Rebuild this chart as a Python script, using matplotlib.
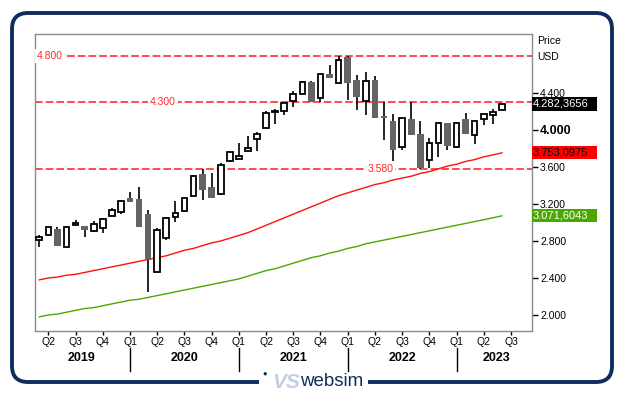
import matplotlib
matplotlib.use("Agg")
import matplotlib.pyplot as plt
import matplotlib.transforms as mtransforms
from matplotlib.patches import FancyBboxPatch, Rectangle

plt.rcParams['font.family'] = ['Liberation Sans', 'DejaVu Sans']

# monthly candles, Mar 2019 .. Jun 2023
opens = [2.81, 2.87, 2.93, 2.74, 2.97, 2.96, 2.91, 2.94, 3.07, 3.11,
         3.27, 3.25, 3.09, 2.47, 2.83, 3.06, 3.12, 3.29, 3.52, 3.38,
         3.31, 3.67, 3.69, 3.77, 3.90, 4.02, 4.19, 4.20, 4.31, 4.39,
         4.52, 4.35, 4.60, 4.51, 4.79, 4.54, 4.31, 4.54, 4.15, 4.10,
         3.82, 4.12, 3.96, 3.68, 3.86, 4.07, 3.82, 4.12, 3.95, 4.12,
         4.16, 4.22]
highs = [2.86, 2.95, 2.95, 2.96, 3.03, 2.96, 3.02, 3.05, 3.16, 3.24,
         3.33, 3.38, 3.14, 2.94, 3.05, 3.23, 3.27, 3.51, 3.58, 3.54,
         3.64, 3.76, 3.86, 3.94, 3.98, 4.20, 4.23, 4.29, 4.42, 4.53,
         4.53, 4.60, 4.70, 4.80, 4.80, 4.59, 4.63, 4.58, 4.30, 4.17,
         4.13, 4.30, 4.10, 3.91, 4.07, 4.07, 4.08, 4.18, 4.10, 4.17,
         4.23, 4.28]
lows = [2.74, 2.87, 2.75, 2.74, 2.97, 2.84, 2.90, 2.89, 3.07, 3.09,
        3.22, 2.95, 2.25, 2.47, 2.81, 3.00, 3.12, 3.29, 3.24, 3.27,
        3.30, 3.65, 3.69, 3.77, 3.77, 4.02, 4.06, 4.16, 4.25, 4.39,
        4.30, 4.30, 4.56, 4.51, 4.32, 4.22, 4.16, 4.13, 3.89, 3.66,
        3.78, 3.95, 3.58, 3.59, 3.71, 3.78, 3.80, 3.96, 3.85, 4.05,
        4.06, 4.22]
closes = [2.84, 2.95, 2.75, 2.95, 2.99, 2.92, 2.98, 3.04, 3.14, 3.23,
          3.225, 2.955, 2.59, 2.92, 3.05, 3.10, 3.27, 3.50, 3.35, 3.27,
          3.62, 3.76, 3.72, 3.81, 3.96, 4.18, 4.20, 4.29, 4.39, 4.52,
          4.30, 4.60, 4.56, 4.76, 4.51, 4.36, 4.53, 4.13, 4.13, 3.78,
          4.13, 3.95, 3.59, 3.86, 4.07, 3.83, 4.07, 3.96, 4.10, 4.17,
          4.19, 4.282]

ma_red = [2.38, 2.40, 2.41, 2.43, 2.44, 2.46, 2.48, 2.50, 2.52, 2.54,
          2.56, 2.58, 2.60, 2.62, 2.64, 2.67, 2.70, 2.72, 2.75, 2.78,
          2.80, 2.83, 2.86, 2.89, 2.93, 2.97, 3.01, 3.05, 3.09, 3.13,
          3.17, 3.21, 3.25, 3.29, 3.32, 3.35, 3.38, 3.41, 3.43, 3.46,
          3.48, 3.50, 3.53, 3.55, 3.58, 3.61, 3.63, 3.66, 3.68, 3.71,
          3.73, 3.753]
ma_green = [1.98, 2.00, 2.01, 2.03, 2.05, 2.07, 2.08, 2.10, 2.12, 2.14,
            2.16, 2.17, 2.19, 2.21, 2.23, 2.25, 2.27, 2.29, 2.31, 2.33,
            2.35, 2.37, 2.39, 2.42, 2.45, 2.48, 2.50, 2.53, 2.56, 2.59,
            2.62, 2.64, 2.67, 2.69, 2.72, 2.74, 2.77, 2.79, 2.81, 2.83,
            2.85, 2.87, 2.89, 2.91, 2.93, 2.95, 2.97, 2.99, 3.01, 3.03,
            3.05, 3.072]

levels = [4.80, 4.30, 3.58]
level_labels = ['4.800', '4.300', '3.580']
level_label_x = [-0.25, 13.6, 37.6]

quarter_labels = ['Q2', 'Q3', 'Q4', 'Q1', 'Q2', 'Q3', 'Q4', 'Q1', 'Q2', 'Q3',
                  'Q4', 'Q1', 'Q2', 'Q3', 'Q4', 'Q1', 'Q2', 'Q3']
years = ['2019', '2020', '2021', '2022', '2023']
year_x = [4.6, 16, 28, 40, 50.4]
year_starts = [10, 22, 34, 46]

y_ticks = [2.0, 2.4, 2.8, 3.2, 3.6, 4.0, 4.4]

last_close_tag = '4.282,3656'
red_tag = '3.753,0975'
green_tag = '3.071,6043'

navy = '#0f2d5c'
gray_candle = '#646464'

fig = plt.figure(figsize=(6.26, 3.97), dpi=100)
ax = fig.add_axes([0.0564, 0.1675, 0.793, 0.7456])

x = list(range(len(opens)))

# moving averages
ax.plot(x, ma_red, color='#ff1010', lw=1.0, zorder=2)
ax.plot(x, ma_green, color='#4aa800', lw=1.0, zorder=2)

# level lines
for lv, lab, lx in zip(levels, level_labels, level_label_x):
    ax.axhline(lv, color='#ff1a1a', lw=1.1, dashes=(5, 2), zorder=1)
    ax.text(lx, lv, lab, color='#ff2a2a', fontsize=7.5, va='center',
            ha='left' if lx < 0 else 'center', zorder=3,
            bbox=dict(facecolor='white', edgecolor='none', pad=1.5))

# candles
bottoms = [min(o, c) for o, c in zip(opens, closes)]
heights = [max(abs(c - o), 0.012) for o, c in zip(opens, closes)]
ups = [c >= o for o, c in zip(opens, closes)]
ax.vlines(x, lows, highs, color='black', lw=1.2, zorder=4)
ax.bar([i for i, u in zip(x, ups) if u],
       [h for h, u in zip(heights, ups) if u],
       bottom=[b for b, u in zip(bottoms, ups) if u],
       width=0.62, color='white', edgecolor='black', linewidth=1.3, zorder=5)
ax.bar([i for i, u in zip(x, ups) if not u],
       [h for h, u in zip(heights, ups) if not u],
       bottom=[b for b, u in zip(bottoms, ups) if not u],
       width=0.74, color=gray_candle, edgecolor='none', zorder=5)

ax.set_xlim(-0.44, 54.29)
ax.set_ylim(1.8324, 5.032)

# axes styling
for s in ax.spines.values():
    s.set_color('#8a8a96')
    s.set_linewidth(1.0)

ax.yaxis.tick_right()
ax.set_yticks(y_ticks)
ax.set_yticklabels(['%.3f' % v for v in y_ticks])
ax.tick_params(axis='y', direction='out', length=4, width=1, color='black',
               labelsize=7.5, pad=2)
for t in ax.get_yticklabels():
    if t.get_text() == '4.000':
        t.set_fontweight('bold')
        t.set_fontsize(9)

ax.set_xticks([1 + 3 * i for i in range(len(quarter_labels))])
ax.set_xticklabels(quarter_labels)
ax.tick_params(axis='x', direction='out', length=3, width=1, color='black',
               labelsize=7.5, pad=1.5)

# year row
tr = mtransforms.blended_transform_factory(ax.transData, ax.transAxes)
for yr, yx in zip(years, year_x):
    ax.text(yx, -0.093, yr, transform=tr, ha='center', va='center',
            fontsize=9, fontweight='bold')
for ys in year_starts:
    ax.plot([ys, ys], [-0.059, -0.137], transform=tr, color='black',
            lw=1.0, clip_on=False)

# price header
ax.text(1.0107, 0.978, 'Price', transform=ax.transAxes, fontsize=7.5,
        va='center', ha='left')
ax.text(1.0107, 0.924, 'USD', transform=ax.transAxes, fontsize=7.5,
        va='center', ha='left')

# value tags on the right
trt = mtransforms.blended_transform_factory(ax.transAxes, ax.transData)
box_w = 65 / 496.4
box_h = 13.3 / 92.5
for val, txt, bg, fg in [(closes[-1], last_close_tag, 'black', 'white'),
                         (ma_red[-1], red_tag, '#ff0000', '#1a0000'),
                         (ma_green[-1], green_tag, '#4aa800', 'white')]:
    ax.add_patch(Rectangle((1.0, val - box_h / 2), box_w, box_h,
                           transform=trt, facecolor=bg, edgecolor='none',
                           clip_on=False, zorder=6))
    ax.text(1.002, val, txt, transform=trt, color=fg, fontsize=8,
            va='center', ha='left', zorder=7, clip_on=False)

# outer rounded frame (pixel coords)
frame = FancyBboxPatch((12 + 16, 397 - 382 + 16), 600 - 32, 369 - 32,
                       boxstyle='round,pad=16', transform=None,
                       facecolor='none', edgecolor=navy, linewidth=2.8)
fig.patches.append(frame)
gap = Rectangle((259, 397 - 391), 109, 18, transform=None,
                facecolor='white', edgecolor='none')
fig.patches.append(gap)
fig.text(265 / 626, 1 - 374 / 397, '\u25CF', color=navy, fontsize=5.5,
         ha='center', va='center')
fig.text(286 / 626, 1 - 382 / 397, 'VS', color='#c3cfe0', fontsize=15,
         fontweight='heavy', style='italic', ha='center', va='center',
         family=['Liberation Sans Narrow', 'Liberation Sans'])
fig.text(332 / 626, 1 - 382 / 397, 'websim', color=navy, fontsize=13.5,
         ha='center', va='center',
         family=['Liberation Sans Narrow', 'Liberation Sans'])

fig.savefig('out.png', dpi=100, facecolor='white')
